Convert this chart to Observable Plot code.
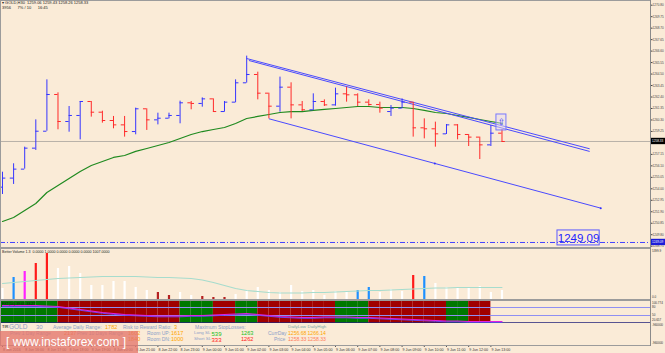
<!DOCTYPE html>
<html><head><meta charset="utf-8">
<script src="https://cdn.jsdelivr.net/npm/d3@7"></script>
<script src="https://cdn.jsdelivr.net/npm/@observablehq/plot@0.6"></script>
<style>
html,body{margin:0;padding:0;background:#FAEBD7;}
#wrap{position:relative;width:665px;height:353px;overflow:hidden;background:#FAEBD7;font-family:"Liberation Sans",Arial,sans-serif;}
.p{position:absolute;left:0;}
.t{position:absolute;white-space:pre;line-height:1;}
.sep{position:absolute;background:#9b9b9b;}
</style></head><body>
<div id="wrap">
  <div class="p" id="main" style="top:0"></div>
  <div class="p" id="vol" style="top:249px"></div>
  <div class="p" id="band" style="top:301px"></div>
  <div class="p" id="time" style="top:345px"></div>
  <div id="info"></div>
  <div class="sep" style="left:0;top:0;width:651px;height:1px"></div>
  <div class="sep" style="left:0;top:0;width:1px;height:345px"></div>
  <div class="sep" style="left:0;top:247px;width:651px;height:2px"></div>
  <div class="sep" style="left:0;top:299px;width:651px;height:2px"></div>
  <div class="sep" style="left:0;top:345px;width:651px;height:1px"></div>
  <div class="sep" style="left:650px;top:0;width:1px;height:346px;background:#8a8a8a"></div>
  <div class="t" style="left:2px;top:1px;font-size:4px;color:#222">▾ GOLD,H30  1259.06 1259.43 1258.26 1258.33</div>
  <div class="t" style="left:2px;top:6px;font-size:4px;color:#222">3956      7% / 10      16:45</div>
  <div class="t" style="left:2px;top:251px;font-size:3.6px;color:#222">Better Volume 1.3  0.0000 1.0000 0.0000 0.0000 0.0000 1007.0000</div>
  <div class="t" style="left:2px;top:303px;font-size:3.6px;color:#111">FXT(14) 39.05 33.27</div>
  <div class="t" style="left:652px;top:250px;font-size:3px;color:#333">5399.9</div>
  <div class="t" style="left:652px;top:296px;font-size:3px;color:#333">0.0</div>
  <div class="t" style="left:652px;top:301.5px;font-size:3px;color:#333">100.774</div>
  <div class="t" style="left:652px;top:305.5px;font-size:3px;color:#333">80</div>
  <div class="t" style="left:652px;top:313.5px;font-size:3px;color:#333">50</div>
  <div class="t" style="left:652px;top:318.5px;font-size:3px;color:#333">20.657</div>
  <div class="t" style="left:652px;top:323.5px;font-size:3px;color:#333">-960000</div>
  <div class="t" style="left:652px;top:342px;font-size:3px;color:#333">-960000</div>
  <div class="t" style="left:0;top:331px;width:138px;height:22px;background:rgba(228,118,108,0.78);color:#fff;font-size:12px;line-height:22px;padding-left:6px;box-sizing:border-box">[ www.instaforex.com ]</div>
</div>
<script>
// ---- price bars (GOLD, H30), 46 bars ----
const barOpen  = [1254.15,1254.98,1255.80,1257.72,1259.27,1262.63,1260.16,1260.71,1261.99,1261.01,1260.25,1259.85,1259.24,1261.32,1260.31,1260.46,1260.71,1261.87,1261.81,1262.23,1261.07,1261.93,1263.70,1264.46,1262.75,1261.56,1263.30,1261.68,1261.23,1261.99,1261.68,1262.69,1262.60,1261.93,1261.71,1261.07,1261.38,1261.93,1259.58,1259.49,1259.03,1259.85,1258.97,1258.73,1258.02,1259.09];
const barHigh  = [1255.52,1256.29,1257.81,1260.31,1263.97,1262.78,1261.53,1261.99,1261.99,1261.10,1260.62,1260.62,1261.38,1261.32,1260.92,1260.92,1262.02,1261.99,1262.32,1262.23,1261.99,1263.97,1266.14,1264.67,1262.75,1264.22,1263.70,1261.99,1262.69,1262.14,1263.21,1263.30,1262.69,1262.14,1261.93,1261.62,1262.23,1261.93,1260.40,1260.10,1259.88,1259.88,1258.97,1258.73,1259.79,1259.43];
const barLow   = [1253.48,1254.40,1255.80,1257.51,1259.27,1259.40,1259.18,1258.48,1260.56,1260.01,1259.49,1258.73,1258.94,1259.34,1259.85,1260.40,1259.95,1261.23,1261.47,1261.01,1261.01,1261.87,1263.67,1262.14,1260.40,1261.01,1260.40,1261.07,1261.17,1261.53,1261.56,1261.93,1261.53,1261.56,1260.92,1260.62,1261.32,1258.73,1258.57,1257.81,1258.97,1258.48,1257.87,1256.68,1257.87,1258.26];
const barClose = [1254.98,1255.80,1257.72,1259.27,1262.63,1260.16,1260.71,1261.99,1261.01,1260.25,1259.85,1259.24,1261.32,1260.31,1260.46,1260.71,1261.87,1261.81,1262.23,1261.07,1261.93,1263.70,1264.46,1262.75,1261.56,1263.30,1261.68,1261.23,1261.99,1261.68,1262.69,1262.60,1261.93,1261.71,1261.38,1261.38,1261.93,1259.58,1259.49,1259.03,1259.85,1258.97,1258.73,1258.02,1259.09,1258.33];
const maValues = [1251.01,1251.38,1252.02,1252.66,1253.66,1254.30,1254.94,1255.59,1256.13,1256.50,1256.87,1257.05,1257.42,1257.69,1257.96,1258.24,1258.60,1258.97,1259.24,1259.43,1259.61,1259.98,1260.43,1260.62,1260.80,1260.98,1261.07,1261.07,1261.17,1261.26,1261.35,1261.44,1261.53,1261.53,1261.44,1261.44,1261.44,1261.35,1261.17,1260.98,1260.89,1260.71,1260.53,1260.34,1260.16,1259.98];
const priceTicks = [1270.80,1269.75,1268.70,1267.65,1266.60,1265.55,1264.50,1263.45,1262.40,1261.35,1260.30,1259.25,1257.15,1256.10,1255.05,1254.00,1252.95,1251.90,1250.85,1249.80,1248.75];
const lastPrice = 1258.33;
const alertPrice = 1249.09;
// trend lines (bar index, price)
const trendFromBar   = [22, 22.2, 24];
const trendFromPrice = [1265.92, 1265.74, 1260.41];
const trendToBar     = [52.9, 52.9, 53.9];
const trendToPrice   = [1257.66, 1257.42, 1252.23];
// annotation boxes
const alertBoxBars   = [50.0, 53.8];
const alertBoxPrices = [1248.82, 1250.19];
const alertLabelBar  = 51.9;
const alertLabelPrice = 1249.50;
const markerBars   = [44.5, 45.4];
const markerPrices = [1259.34, 1260.80];
// ---- volume panel ----
const volume     = [1188,2376,3024,3888,4968,3348,3564,2808,1512,1512,1944,1944,1296,972,756,432,756,432,324,216,216,540,972,1296,972,756,1512,864,972,432,864,864,972,1296,756,1080,864,2592,2484,1728,1296,1296,1188,1404,756,972];
const volumeType = ["N","C","M","U","U","N","N","N","N","N","N","N","N","N","L","L","N","N","L","L","L","N","N","N","N","N","N","N","N","N","N","N","C","C","N","N","N","U","C","N","N","N","N","N","N","N"];
const volumeMA   = [1728,1836,1944,2052,2160,2268,2322,2376,2430,2484,2484,2484,2484,2430,2376,2376,2322,2268,2106,1836,1512,1188,972,864,756,702,702,702,756,756,810,864,918,972,972,1026,1080,1134,1188,1242,1242,1296,1296,1296,1296,1296];
// ---- trend band panel ----
const bandState = ["up","up","up","up","up","up","dn","dn","dn","dn","dn","dn","dn","dn","dn","dn","dn","up","up","up","dn","dn","up","up","dn","dn","dn","dn","dn","dn","dn","up","up","up","dn","dn","dn","dn","dn","dn","dn","up","up","dn","dn"];
const oscValues = [87.5,87.5,87.5,87.5,85.6,83.8,78.1,72.5,66.9,61.3,57.5,53.8,51.9,50.0,48.1,48.1,48.1,50.0,50.0,51.9,53.8,55.6,57.5,53.8,50.0,46.3,44.4,42.5,42.5,44.4,44.4,44.4,42.5,42.5,40.6,38.8,36.9,35.0,33.1,31.3,29.4,29.4,27.5,27.5,27.5,27.5];
const oscLevels = [80, 50];
const oscFloor = 20.66;
// ---- time axis ----
const timeTickBars = [0,2,4,6,8,10,12,14,16,18,20,22,24,26,28,30,32,34,36,38,40,42,44];
const timeLabels = ["8 Jun 2016","8 Jun 16:00","8 Jun 17:00","8 Jun 18:00","8 Jun 19:00","8 Jun 20:00","8 Jun 21:00","8 Jun 22:00","8 Jun 23:00","9 Jun 00:00","9 Jun 01:00","9 Jun 02:00","9 Jun 03:00","9 Jun 04:00","9 Jun 05:00","9 Jun 06:00","9 Jun 07:00","9 Jun 08:00","9 Jun 09:00","9 Jun 10:00","9 Jun 11:00","9 Jun 12:00","9 Jun 13:00"];
// ---- info panel ----
const infoLabels = ["Average Daily Range:","Risk to Reward Ratio:","Maximum StopLosses:","Prev 1 Day Range","Prev 10 Days Range","Room UP:","Room DN:","Long SL","Short SL","DailyLow","DailyHigh","CurrDay","Price"];
const infoValues = {adr: "1782", rr: "3", prev1: "2137", prev10: "1602", prev5: "1840", roomUp: "1617", roomDn: "1000", longSL: "539", shortSL: "333", longPx: "1263", shortPx: "1262", dayLow: "1256.68", dayHigh: "1266.14", price: "1258.33"};

const bars = barOpen.map((o, i) => ({i, open: o, high: barHigh[i], low: barLow[i], close: barClose[i], ma: maValues[i]}));
const trends = trendFromBar.map((b, k) => ({x1: b, y1: trendFromPrice[k], x2: trendToBar[k], y2: trendToPrice[k]}));
const lowerTrend = trends[2];
const trendDots = [{x: (lowerTrend.x1 + lowerTrend.x2) / 2, y: (lowerTrend.y1 + lowerTrend.y2) / 2}, {x: lowerTrend.x2, y: lowerTrend.y2}];
const vol = volume.map((v, i) => ({i, v, t: volumeType[i], ma: volumeMA[i]}));
const band = bandState.map((s, i) => ({i, s}));
const osc = oscValues.map((v, i) => ({i, v}));

const UP = "#3535ff", DN = "#ff2a2a";
const xDomain = [-0.18, 58.38];
const X = {domain: xDomain, axis: null};
const common = {width: 665, marginLeft: 0, marginRight: 15, marginTop: 0, marginBottom: 0,
  style: {background: "transparent", fontFamily: "'Liberation Sans', Arial, sans-serif", fontSize: "4px", color: "#333"}};
const isUp = d => d.close >= d.open;
const isDn = d => d.close < d.open;

const main = Plot.plot({
  ...common, height: 247, x: X, y: {domain: [1248.63, 1271.23], axis: null},
  marks: [
    Plot.ruleY([lastPrice], {stroke: "#b9b2a8"}),
    Plot.ruleY([alertPrice], {stroke: "#4040ff", strokeDasharray: "5,2,1,2"}),
    Plot.line(bars, {x: "i", y: "ma", stroke: "#1f8a1f", strokeWidth: 1.2}),
    Plot.link(trends, {x1: "x1", y1: "y1", x2: "x2", y2: "y2", stroke: "#4a4aff", strokeWidth: 1}),
    Plot.dot(trendDots, {x: "x", y: "y", r: 1, fill: "#3030ff"}),
    Plot.ruleX(bars, {filter: isUp, x: "i", y1: "low", y2: "high", stroke: UP}),
    Plot.ruleY(bars, {filter: isUp, y: "open", x1: d => d.i - 0.3, x2: "i", stroke: UP}),
    Plot.ruleY(bars, {filter: isUp, y: "close", x1: "i", x2: d => d.i + 0.3, stroke: UP}),
    Plot.ruleX(bars, {filter: isDn, x: "i", y1: "low", y2: "high", stroke: DN}),
    Plot.ruleY(bars, {filter: isDn, y: "open", x1: d => d.i - 0.3, x2: "i", stroke: DN}),
    Plot.ruleY(bars, {filter: isDn, y: "close", x1: "i", x2: d => d.i + 0.3, stroke: DN}),
    Plot.rect([0], {x1: () => markerBars[0], x2: () => markerBars[1], y1: () => markerPrices[0], y2: () => markerPrices[1], stroke: "#7878ff", fill: "#e6dcf0", fillOpacity: 0.5}),
    Plot.text([0], {x: () => (markerBars[0] + markerBars[1]) / 2, y: () => (markerPrices[0] + markerPrices[1]) / 2, text: () => "⇧", fontSize: 9, fill: "#3a3aff", fontFamily: "DejaVu Sans"}),
    Plot.rect([alertPrice], {x1: () => alertBoxBars[0], x2: () => alertBoxBars[1], y1: () => alertBoxPrices[0], y2: () => alertBoxPrices[1], stroke: "#5a5aff", fill: "none"}),
    Plot.text([alertPrice], {x: () => alertLabelBar, y: () => alertLabelPrice, text: d => d.toFixed(2), fontSize: 11.5, fill: "#2222ff"}),
    Plot.axisY(priceTicks, {anchor: "right", tickSize: 1.5, tickPadding: 0.5, fontSize: 3.1, tickFormat: d => d.toFixed(2), label: null, color: "#444"}),
    Plot.rect([lastPrice], {x1: xDomain[1], x2: xDomain[1] + 1.35, y1: d => d - 0.29, y2: d => d + 0.29, fill: "#000"}),
    Plot.text([lastPrice], {x: xDomain[1], y: d => d, text: d => d.toFixed(2), textAnchor: "start", dx: 1.5, fill: "#fff", fontSize: 3.1}),
    Plot.rect([alertPrice], {x1: xDomain[1], x2: xDomain[1] + 1.35, y1: d => d - 0.29, y2: d => d + 0.29, fill: "#1c1cd8"}),
    Plot.text([alertPrice], {x: xDomain[1], y: d => d, text: d => d.toFixed(2), textAnchor: "start", dx: 1.5, fill: "#fff", fontSize: 3.1})
  ]
});
document.getElementById("main").append(main);

const volPlot = Plot.plot({
  ...common, height: 50, x: X, y: {domain: [0, 5400], axis: null},
  color: {domain: ["N","C","M","U","L"], range: ["#ffffff","#1e90ff","#ff22ff","#ff1a1a","#b42020"]},
  marks: [
    Plot.ruleX(vol, {x: "i", y1: 0, y2: "v", stroke: "t", strokeWidth: 2.2}),
    Plot.line(vol, {x: "i", y: "ma", stroke: "#a6dccd", strokeWidth: 1.1})
  ]
});
document.getElementById("vol").append(volPlot);

const bandPlot = Plot.plot({
  ...common, height: 22, x: X, y: {domain: [20, 102.5], axis: null},
  color: {domain: ["up","dn"], range: ["#007800","#a00000"]},
  marks: [
    Plot.rect(band, {x1: d => d.i - 1, x2: "i", y1: () => 20, y2: () => 102.5, fill: "s"}),
    Plot.ruleY(oscLevels, {stroke: "#8f8ff2"}),
    Plot.ruleY([oscFloor], {stroke: "#22227a", strokeWidth: 2}),
    Plot.line(osc, {x: "i", y: "v", stroke: "#5a4cf0", strokeWidth: 1, dy: 0.8}),
    Plot.line(osc, {x: "i", y: "v", stroke: "#e020e0", strokeWidth: 1.1})
  ]
});
document.getElementById("band").append(bandPlot);

const timePlot = Plot.plot({
  ...common, height: 8, marginBottom: 6, x: X,
  marks: [
    Plot.ruleX(timeTickBars, {x: d => d, stroke: "#555"}),
    Plot.text(timeTickBars, {x: d => d, text: (d, i) => timeLabels[i], frameAnchor: "bottom", lineAnchor: "top", textAnchor: "start", dx: 0.5, dy: 0.6, fontSize: 3.6, fill: "#333"})
  ]
});
document.getElementById("time").append(timePlot);

// info panel (text table)
const L = "#8aa0c8";
const infoItems = [
  [2, 324.5, "TIR", "#000", 4], [9, 323.8, "GOLD", L, 6.5], [36, 324.2, "30", L, 6],
  [53, 325, infoLabels[0], L, 5], [105, 324.6, infoValues.adr, "#ffa500", 5.6],
  [123, 325, infoLabels[1], L, 5], [174, 324.6, infoValues.rr, "#ffa500", 5.6],
  [195, 325, infoLabels[2], L, 5], [288, 325.2, infoLabels[9], "#7aa6a6", 4.4], [307.5, 325.2, infoLabels[10], "#7aa6a6", 4.4],
  [10, 331, infoLabels[3], L, 5], [64, 330.7, infoValues.prev1, "#ff7f27", 5.6], [77, 331, infoLabels[4], L, 5],
  [128, 330.7, infoValues.prev10, "#ffa500", 5.6], [147, 331, infoLabels[5], L, 5], [171, 330.7, infoValues.roomUp, "#ffa500", 5.6],
  [194, 331.2, infoLabels[7], L, 4.4], [211.5, 330.5, infoValues.longSL, "#20c020", 6], [241, 330.7, infoValues.longPx, "#20c020", 5.6],
  [268, 331, infoLabels[11], L, 5], [288, 330.9, infoValues.dayLow, "#ffa500", 5.1], [307.5, 330.9, infoValues.dayHigh, "#ffa500", 5.1],
  [128, 336.7, infoValues.prev5, "#ffa500", 5.6], [147, 337, infoLabels[6], L, 5], [171, 336.7, infoValues.roomDn, "#ffa500", 5.6],
  [194, 337.2, infoLabels[8], L, 4.4], [211.5, 336.5, infoValues.shortSL, "#ff2020", 6], [241, 336.7, infoValues.shortPx, "#ff2020", 5.6],
  [274, 337, infoLabels[12], L, 5], [288, 336.9, infoValues.price, "#ff8060", 5.1], [307.5, 336.9, infoValues.price, "#ff8060", 5.1]
];
const info = document.getElementById("info");
for (const [x, y, s, c, f] of infoItems) {
  const el = document.createElement("div");
  el.className = "t";
  el.style.cssText = `left:${x}px;top:${y}px;color:${c};font-size:${f}px`;
  el.textContent = s;
  info.append(el);
}
// keep watermark on top
const wrap = document.getElementById("wrap");
const wm = [...wrap.querySelectorAll(".t")].find(e => e.textContent.includes("instaforex"));
wrap.append(wm);
</script>
</body></html>
